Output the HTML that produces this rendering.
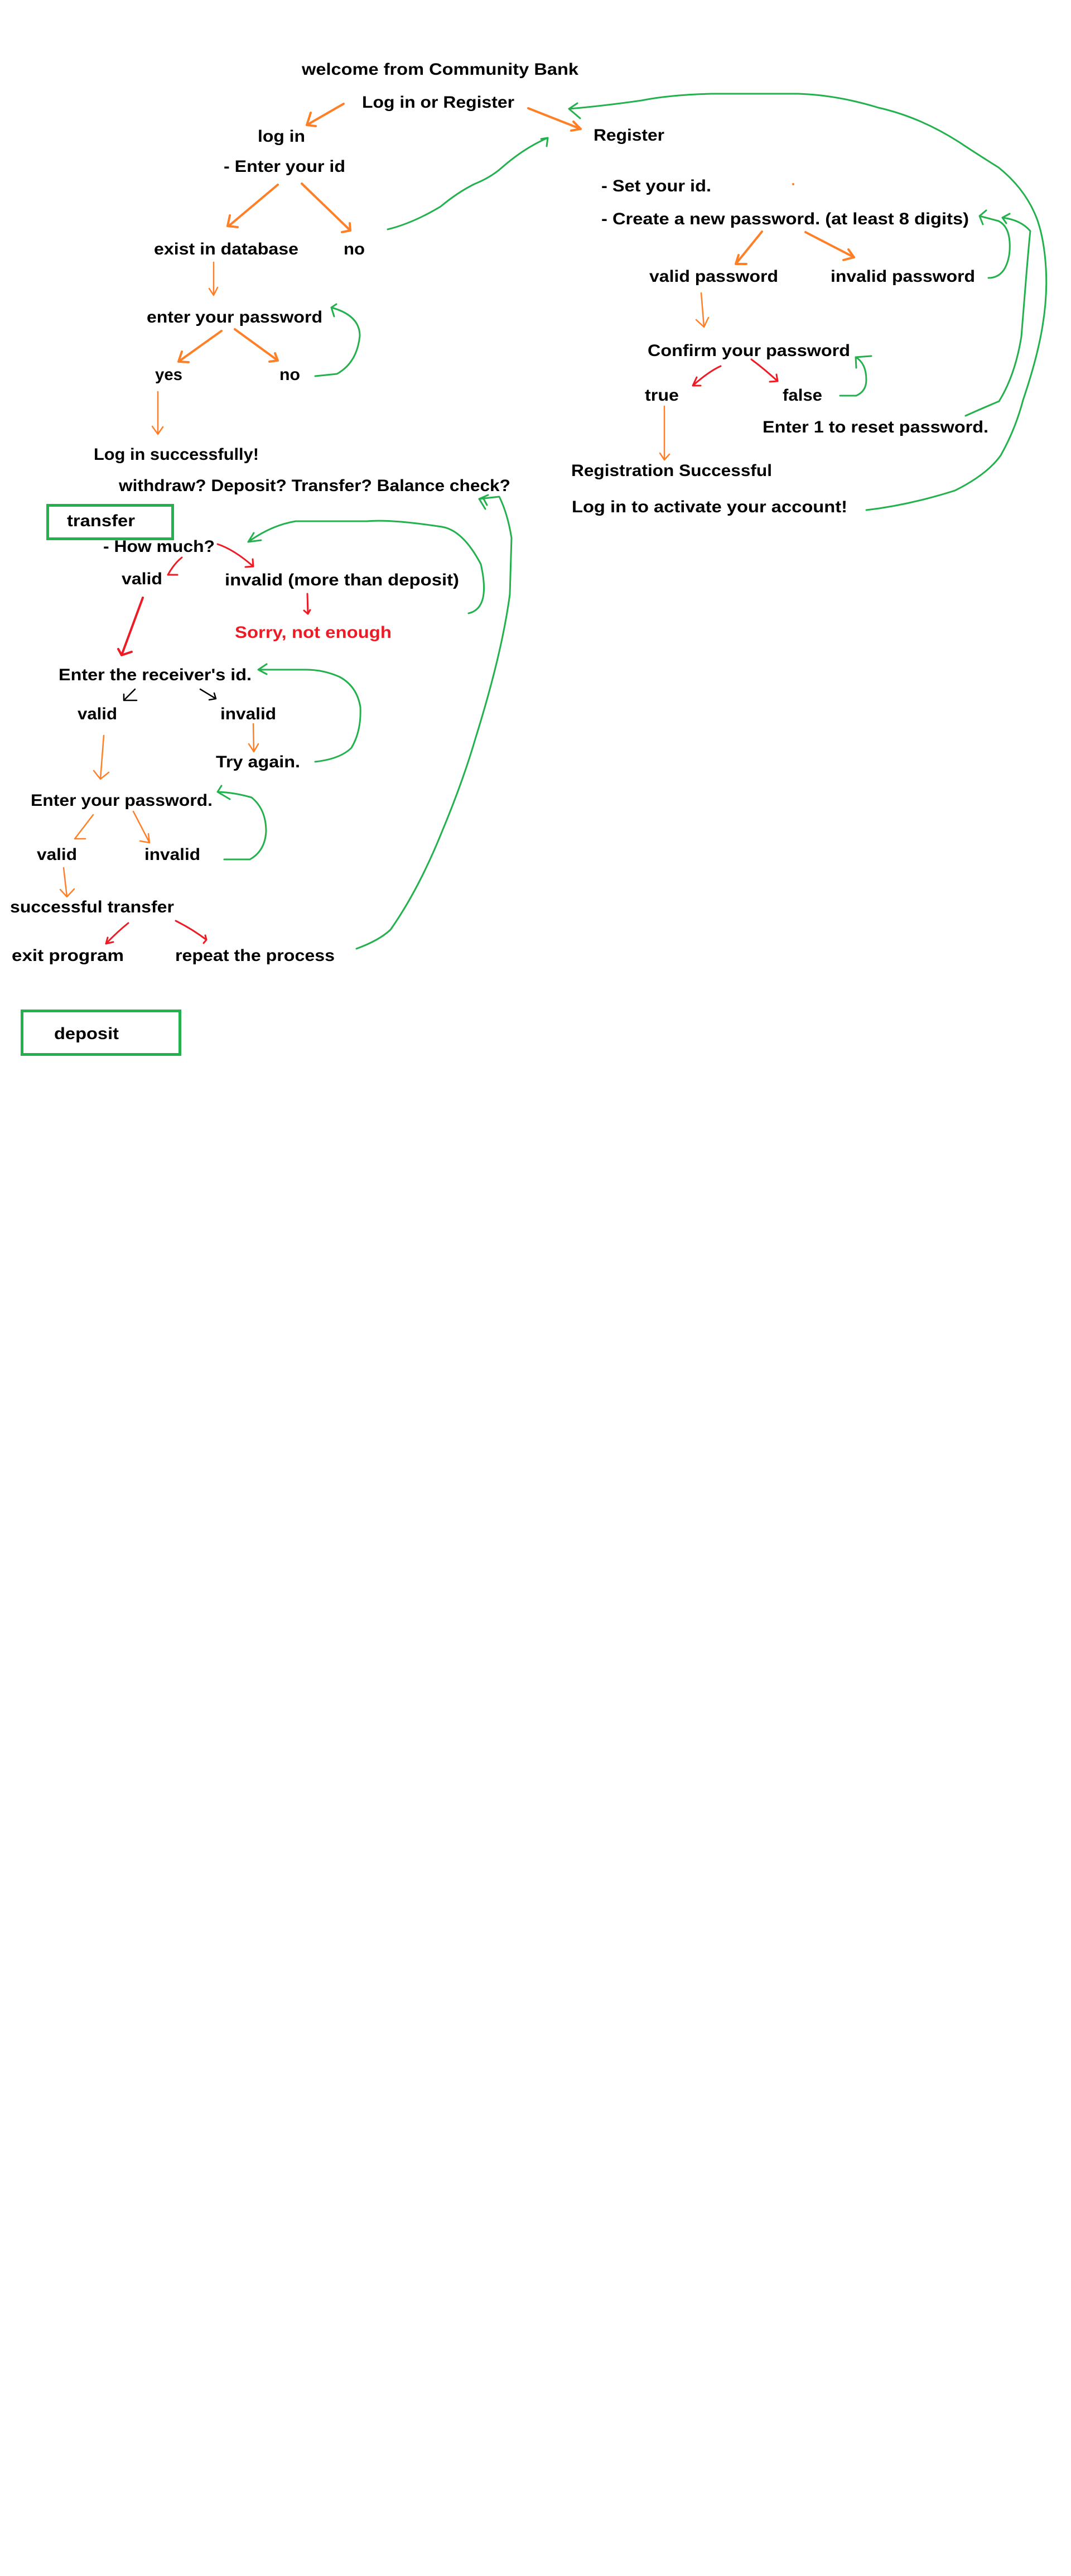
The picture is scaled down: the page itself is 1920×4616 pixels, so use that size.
<!DOCTYPE html>
<html><head><meta charset="utf-8"><style>
html,body{margin:0;padding:0;background:#fff}
svg{display:block}
text{font-family:"Liberation Sans",sans-serif;font-weight:bold;font-size:30px;fill:#000}
.o{stroke:#ff7f27;fill:none;stroke-linecap:round;stroke-linejoin:round}
.g{stroke:#22b14c;fill:none;stroke-width:3;stroke-linecap:round;stroke-linejoin:round}
.r{stroke:#ed1c24;fill:none;stroke-width:3;stroke-linecap:round;stroke-linejoin:round}
.k{stroke:#000;fill:none;stroke-width:2.5;stroke-linecap:round;stroke-linejoin:round}
</style></head><body>
<svg width="1920" height="4616" viewBox="0 0 1920 4616" xmlns="http://www.w3.org/2000/svg">
<text x="541" y="134" textLength="496" lengthAdjust="spacingAndGlyphs">welcome from Community Bank</text>
<text x="649" y="193" textLength="273" lengthAdjust="spacingAndGlyphs">Log in or Register</text>
<text x="462" y="254" textLength="85" lengthAdjust="spacingAndGlyphs">log in</text>
<text x="401" y="308" textLength="218" lengthAdjust="spacingAndGlyphs">- Enter your id</text>
<text x="276" y="456" textLength="259" lengthAdjust="spacingAndGlyphs">exist in database</text>
<text x="616" y="456" textLength="38" lengthAdjust="spacingAndGlyphs">no</text>
<text x="263" y="578" textLength="315" lengthAdjust="spacingAndGlyphs">enter your password</text>
<text x="278" y="681" textLength="49" lengthAdjust="spacingAndGlyphs">yes</text>
<text x="501" y="681" textLength="37" lengthAdjust="spacingAndGlyphs">no</text>
<text x="168" y="824" textLength="296" lengthAdjust="spacingAndGlyphs">Log in successfully!</text>
<text x="213" y="880" textLength="702" lengthAdjust="spacingAndGlyphs">withdraw? Deposit? Transfer?  Balance check?</text>

<text x="1064" y="252" textLength="127" lengthAdjust="spacingAndGlyphs">Register</text>
<text x="1078" y="343" textLength="197" lengthAdjust="spacingAndGlyphs">- Set your id.</text>
<text x="1078" y="402" textLength="659" lengthAdjust="spacingAndGlyphs">- Create a new password. (at least 8 digits)</text>
<g transform="translate(0,-7)">
<text x="1164" y="512" textLength="231" lengthAdjust="spacingAndGlyphs">valid password</text>
<text x="1489" y="512" textLength="259" lengthAdjust="spacingAndGlyphs">invalid password</text>
</g>
<g transform="translate(0,-9)">
<text x="1161" y="647" textLength="363" lengthAdjust="spacingAndGlyphs">Confirm your password</text>
<text x="1156" y="727" textLength="61" lengthAdjust="spacingAndGlyphs">true</text>
<text x="1403" y="727" textLength="71" lengthAdjust="spacingAndGlyphs">false</text>
<text x="1367" y="784" textLength="405" lengthAdjust="spacingAndGlyphs">Enter 1 to reset password.</text>
<text x="1024" y="862" textLength="360" lengthAdjust="spacingAndGlyphs">Registration Successful</text>
</g>
<text x="1025" y="918" textLength="494" lengthAdjust="spacingAndGlyphs">Log in to activate your account!</text>

<rect x="85.5" y="905.5" width="224" height="60" fill="none" stroke="#22b14c" stroke-width="5"/>
<text x="120" y="943" textLength="122" lengthAdjust="spacingAndGlyphs">transfer</text>
<text x="185" y="989" textLength="200" lengthAdjust="spacingAndGlyphs">- How much?</text>
<text x="218" y="1047" textLength="73" lengthAdjust="spacingAndGlyphs">valid</text>
<text x="403" y="1049" textLength="420" lengthAdjust="spacingAndGlyphs">invalid (more than deposit)</text>
<text x="421" y="1143" textLength="281" lengthAdjust="spacingAndGlyphs" style="fill:#ed1c24">Sorry, not enough</text>
<text x="105" y="1219" textLength="346" lengthAdjust="spacingAndGlyphs">Enter the receiver's id.</text>
<text x="139" y="1289" textLength="71" lengthAdjust="spacingAndGlyphs">valid</text>
<text x="395" y="1289" textLength="100" lengthAdjust="spacingAndGlyphs">invalid</text>
<text x="387" y="1375" textLength="151" lengthAdjust="spacingAndGlyphs">Try again.</text>
<text x="55" y="1444" textLength="326" lengthAdjust="spacingAndGlyphs">Enter your password.</text>
<text x="66" y="1541" textLength="72" lengthAdjust="spacingAndGlyphs">valid</text>
<text x="259" y="1541" textLength="100" lengthAdjust="spacingAndGlyphs">invalid</text>
<text x="18" y="1635" textLength="294" lengthAdjust="spacingAndGlyphs">successful  transfer</text>
<text x="21" y="1722" textLength="201" lengthAdjust="spacingAndGlyphs">exit program</text>
<text x="314" y="1722" textLength="286" lengthAdjust="spacingAndGlyphs">repeat the process</text>
<rect x="39.5" y="1811.5" width="283" height="78" fill="none" stroke="#22b14c" stroke-width="5"/>
<text x="97" y="1862" textLength="116" lengthAdjust="spacingAndGlyphs">deposit</text>

<g class="o" stroke-width="4">
<path d="M616 186 L550 224 M557 202 L550 224 L566 226"/>
<path d="M947 194 L1041 231 M1028 218 L1041 231 L1024 234"/>
<path d="M498 331 L410 405 M412 386 L408 405 L426 407"/>
<path d="M541 329 L628 413 M627 400 L628 413 L613 416"/>
<path d="M397 593 L320 648 M326 630 L320 648 L338 649"/>
<path d="M421 590 L498 646 M493 633 L498 646 L483 648"/>
<g transform="translate(0,-5)">
<path d="M1366 420 L1319 478 M1324 462 L1319 478 L1338 478"/>
<path d="M1444 421 L1531 466 M1521 452 L1531 466 L1512 471"/>
</g>
</g>
<g class="o" stroke-width="2.5">
<path d="M383 470 L383 529 M375 517 L383 529 L390 515"/>
<path d="M283 702 L283 778 M273 764 L283 778 L292 765"/>
<g transform="translate(0,-8)">
<path d="M1257 533 L1262 594 M1248 581 L1262 594 L1270 577"/>
<path d="M1191 736 L1191 832 M1183 820 L1191 832 L1200 822"/>
</g>
<path d="M454 1297 L455 1347 M446 1333 L455 1347 L463 1333"/>
<path d="M186 1318 L180 1396 M168 1381 L180 1396 L195 1384"/>
<path d="M167 1460 L134 1503 M134 1503 L153 1503"/>
<path d="M239 1454 L268 1510 M251 1507 L268 1510 L266 1494"/>
<path d="M114 1555 L120 1607 M108 1594 L120 1607 L133 1593"/>
</g>
<circle cx="1422" cy="330" r="2" fill="#ff7f27"/>
<g class="r">
<path d="M390 975 Q420 985 454 1015 M453 1002 L454 1015 L440 1016"/>
<path d="M326 999 Q312 1010 301 1030 M301 1030 L318 1030"/>
<path d="M551 1064 L552 1100 M545 1094 L552 1100 L556 1093"/>
<path d="M256 1071 L218 1174 M212 1163 L218 1174 L236 1168" stroke-width="4"/>
<g transform="translate(0,-9)">
<path d="M1292 665 Q1270 675 1242 700 M1249 685 L1242 700 L1256 700"/>
<path d="M1347 653 Q1370 670 1394 692 M1392 680 L1394 692 L1380 693"/>
</g>
<path d="M230 1654 Q210 1670 190 1691 M193 1680 L190 1691 L203 1688"/>
<path d="M315 1650 Q345 1665 370 1684 M365 1690 L370 1684 L368 1676"/>
</g>
<g class="k">
<path d="M242 1235 L222 1255 M222 1244 L222 1255 L245 1255"/>
<path d="M359 1235 L387 1252 M375 1254 L387 1252 L384 1242"/>
</g>
<g class="g">
<path d="M695 411 Q740 400 790 370 Q820 345 850 330 Q880 318 900 300 Q940 265 982 247 M970 249 L982 247 L980 262"/>
<path d="M565 674 L604 670 Q640 650 645 602 Q645 565 594 551 M594 551 L599 567 M594 551 L603 545"/>
<path d="M1553 914 Q1630 905 1712 879 Q1770 850 1794 816 Q1820 770 1834 717 Q1860 640 1869 584 Q1878 530 1875 480 Q1872 430 1860 395 Q1840 340 1790 300 Q1750 275 1720 255 Q1650 210 1575 193 Q1500 170 1430 168 L1275 168 Q1200 170 1150 180 Q1080 190 1020 195 M1020 195 L1035 185 M1020 195 L1040 212"/>
<path d="M1772 498 Q1790 498 1800 483 Q1812 463 1810 433 Q1808 405 1790 396 L1756 387 M1756 387 L1768 377 M1756 387 L1762 402"/>
<path d="M1731 745 Q1760 732 1791 719 Q1820 672 1831 603 Q1835 552 1840 492 Q1845 432 1847 414 Q1830 394 1797 390 M1797 390 L1810 383 M1797 390 L1804 400"/>
<path d="M1506 709 L1535 709 Q1553 701 1553 681 Q1553 651 1534 640 M1534 640 L1535 659 M1534 640 L1562 638"/>
<path d="M840 1099 Q880 1090 862 1011 Q830 950 792 944 Q700 930 658 934 L530 934 Q487 941 445 971 M445 971 L455 955 M445 971 L468 968"/>
<path d="M565 1365 Q610 1360 630 1340 Q648 1310 646 1267 Q640 1230 609 1213 Q580 1200 548 1200 L463 1200 M463 1200 L478 1190 M463 1200 L478 1208"/>
<path d="M402 1540 L448 1540 Q475 1525 477 1490 Q477 1450 451 1429 Q420 1420 390 1419 M390 1419 L397 1408 M390 1419 L412 1432"/>
<path d="M639 1700 Q680 1685 700 1666 Q750 1595 792 1491 Q830 1400 853 1321 Q900 1170 914 1065 L917 964 Q910 920 895 890 L859 894 M859 894 L875 887 M859 894 L870 912 M866 892 L873 905"/>
</g>
</svg>
</body></html>
